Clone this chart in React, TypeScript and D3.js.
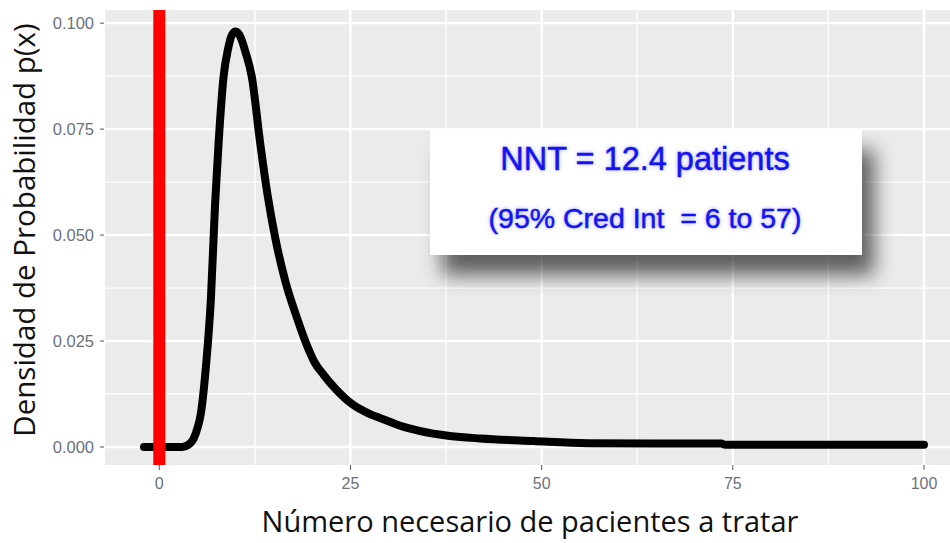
import React from "react";
import * as d3 from "d3";

const xTicks = [0, 25, 50, 75, 100];
const xMinor = [12.5, 37.5, 62.5, 87.5];
const yTicks = [0, 0.025, 0.05, 0.075, 0.1];
const yMinor = [0.0125, 0.0375, 0.0625, 0.0875];
const yTickLabels = ["0.000", "0.025", "0.050", "0.075", "0.100"];

const nntX = [-2, 3, 4, 4.5, 5, 5.4, 6.1, 6.75, 7.3, 7.75, 8.4, 9.0, 9.5, 10.0, 10.6, 11.3, 12.1, 13.2, 14.2, 15.2, 16.5, 18.0, 19.3, 20.3, 21.5, 23, 25.3, 27.5, 29.8, 31.5, 34, 38, 42, 48.9, 56, 73.5, 74, 100];
const density = [0, 0, 0.0008, 0.002, 0.0045, 0.0075, 0.019, 0.035, 0.0575, 0.0716, 0.0873, 0.094, 0.0972, 0.098, 0.0968, 0.093, 0.0873, 0.0716, 0.059, 0.049, 0.039, 0.0305, 0.024, 0.02, 0.017, 0.0138, 0.01, 0.0078, 0.0062, 0.005, 0.0038, 0.0026, 0.002, 0.0014, 0.0009, 0.0008, 0.0005, 0.0005];

const refLineX = 0;
const xTitle = "Número necesario de pacientes a tratar";
const yTitle = "Densidad de Probabilidad p(x)";
const note1 = "NNT = 12.4 patients";
const note2 = "(95% Cred Int  = 6 to 57)";

export default function App() {
  const W = 950, H = 543;
  const pL = 105, pT = 10, pB = 465, pR = 950;
  const x = d3.scaleLinear().domain([-7.1, 105.1]).range([pL, 963]);
  const y = d3.scaleLinear().domain([-0.00425, 0.1031]).range([pB, pT]);
  const pts = nntX.map((v, i) => [v, density[i]] as [number, number]);
  const line = d3.line<[number, number]>().x(d => x(d[0])).y(d => y(d[1])).curve(d3.curveMonotoneX);
  const tickColor = "#6b717c";
  return (
    <div style={{ position: "absolute", left: 0, top: 0 }}>
      <svg width={W} height={H} style={{ display: "block", background: "#fff" }}>
        <defs>
          <clipPath id="panel"><rect x={pL} y={pT} width={pR - pL} height={pB - pT} /></clipPath>
          <filter id="shadow" x="-20%" y="-30%" width="150%" height="190%">
            <feDropShadow dx="12" dy="20" stdDeviation="10" floodColor="#000" floodOpacity="0.6" />
          </filter>
          <filter id="glow" x="-10%" y="-40%" width="120%" height="180%">
            <feGaussianBlur stdDeviation="2.2" />
          </filter>
        </defs>
        <rect x={pL} y={pT} width={pR - pL} height={pB - pT} fill="#ebebeb" />
        <g clipPath="url(#panel)">
          {xMinor.map(v => <line key={"xm" + v} x1={x(v)} x2={x(v)} y1={pT} y2={pB} stroke="#fff" strokeWidth={1.3} />)}
          {yMinor.map(v => <line key={"ym" + v} y1={y(v)} y2={y(v)} x1={pL} x2={pR} stroke="#fff" strokeWidth={1.3} />)}
          {xTicks.map(v => <line key={"xM" + v} x1={x(v)} x2={x(v)} y1={pT} y2={pB} stroke="#fff" strokeWidth={2.4} />)}
          {yTicks.map(v => <line key={"yM" + v} y1={y(v)} y2={y(v)} x1={pL} x2={pR} stroke="#fff" strokeWidth={2.4} />)}
          <path d={line(pts) || ""} fill="none" stroke="#000" strokeWidth={8} strokeLinecap="round" strokeLinejoin="round" />
          <line x1={x(refLineX)} x2={x(refLineX)} y1={pT} y2={pB} stroke="#ff0000" strokeWidth={12} />
        </g>
        {xTicks.map(v => (
          <g key={"xt" + v}>
            <line x1={x(v)} x2={x(v)} y1={pB} y2={pB + 5} stroke="#555" strokeWidth={1} />
            <text x={x(v)} y={489} textAnchor="middle" fontFamily="Liberation Sans, Arial, sans-serif" fontSize={16} fill={tickColor}>{v}</text>
          </g>
        ))}
        {yTicks.map((v, i) => (
          <g key={"yt" + v}>
            <line x1={pL - 5} x2={pL - 1} y1={y(v)} y2={y(v)} stroke="#555" strokeWidth={1} />
            <text x={94} y={y(v)} dy="0.36em" textAnchor="end" fontFamily="Liberation Sans, Arial, sans-serif" fontSize={16.5} fill={tickColor}>{yTickLabels[i]}</text>
          </g>
        ))}
        <text x={530} y={532} textAnchor="middle" fontFamily="'Open Sans', Lato, sans-serif" fontSize={29} fill="#111">{xTitle}</text>
        <text transform={`translate(35,230) rotate(-90)`} textAnchor="middle" fontFamily="'Open Sans', Lato, sans-serif" fontSize={29.5} fill="#111">{yTitle}</text>
        <rect x={430} y={130} width={432} height={125} fill="#fff" filter="url(#shadow)" />
        <g fontFamily="Liberation Sans, Arial, sans-serif" textAnchor="middle">
          <text x={645} y={170} fontSize={32.5} fill="#3030ff" opacity={0.5} filter="url(#glow)">{note1}</text>
          <text x={645} y={170} fontSize={32.5} fill="#1414f0" stroke="#1414f0" strokeWidth={0.5}>{note1}</text>
          <text x={645} y={228} fontSize={28.5} fill="#3030ff" opacity={0.5} filter="url(#glow)" style={{ whiteSpace: "pre" }}>{note2}</text>
          <text x={645} y={228} fontSize={28.5} fill="#1414f0" stroke="#1414f0" strokeWidth={0.5} style={{ whiteSpace: "pre" }}>{note2}</text>
        </g>
      </svg>
    </div>
  );
}
